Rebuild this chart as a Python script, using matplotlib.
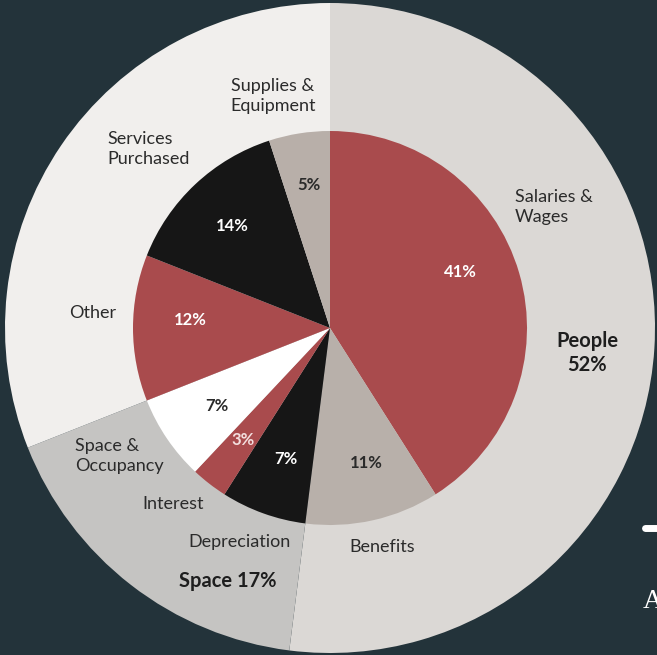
import matplotlib
matplotlib.use("Agg")
import matplotlib.pyplot as plt
from matplotlib.lines import Line2D

plt.rcParams['font.family'] = ['Lato', 'DejaVu Sans']

# outer ring: expense groups (percent of total)
groups = ['People', 'Space', 'Other costs']
group_vals = [52, 17, 31]
group_colors = ['#dbd8d5', '#c5c4c2', '#f1efed']

# inner pie: expense categories, clockwise from 12 o'clock
cats = ['Salaries &\nWages', 'Benefits', 'Depreciation', 'Interest',
        'Space &\nOccupancy', 'Other', 'Services\nPurchased', 'Supplies &\nEquipment']
cat_vals = [41, 11, 7, 3, 7, 12, 14, 5]
cat_colors = ['#a94b4d', '#b8b0aa', '#161616', '#a94b4d',
              '#ffffff', '#a94b4d', '#161616', '#b8afa9']
pct_colors = ['white', '#2a2a2a', 'white', '#f3dede',
              '#2a2a2a', 'white', 'white', '#2a2a2a']

bg = '#23333a'
CX, CY = 330, 328  # pie centre in pixels


def px(x, y):
    # pixel position -> data coords (y up, centre at origin)
    return x - CX, CY - y


fig = plt.figure(figsize=(6.57, 6.55), dpi=100, facecolor=bg)
ax = fig.add_axes([0, 0, 1, 1])
ax.set_facecolor(bg)

ax.pie(group_vals, radius=325, startangle=90, counterclock=False,
       colors=group_colors, wedgeprops=dict(linewidth=0))
ax.pie(cat_vals, radius=197, startangle=90, counterclock=False,
       colors=cat_colors, wedgeprops=dict(linewidth=0))

ax.set_xlim(-CX, 657 - CX)
ax.set_ylim(CY - 655, CY)
ax.set_aspect('equal')
ax.axis('off')

# percentage labels inside the pie
pct_pos = [(460, 272), (366, 463), (286, 459), (243, 440),
           (217, 406), (190, 320), (232, 226), (309, 185)]
for v, (x, y), c in zip(cat_vals, pct_pos, pct_colors):
    ax.text(*px(x, y), f'{v}%', color=c, fontsize=12, fontweight='bold',
            ha='center', va='center')

# category names around the pie
lab_pos = [(515, 207, 'left'), (382, 547, 'center'), (240, 542, 'center'),
           (173, 504, 'center'), (75, 456, 'left'), (93, 313, 'center'),
           (107, 149, 'left'), (273, 96, 'center')]
for name, (x, y, ha) in zip(cats, lab_pos):
    ax.text(*px(x, y), name, color='#2b2b2b', fontsize=13, ha=ha,
            va='center', linespacing=1.35)

# group totals
ax.text(*px(587, 353), f'{groups[0]}\n{group_vals[0]}%', color='#1e1e1e',
        fontsize=14.5, fontweight='bold', ha='center', va='center',
        linespacing=1.2)
ax.text(*px(228, 581), f'{groups[1]} {group_vals[1]}%', color='#1e1e1e',
        fontsize=14.5, fontweight='bold', ha='center', va='center')

# bits of the neighbouring heading at the right edge
fig.add_artist(Line2D([645 / 657, 1.0], [1 - 528 / 655, 1 - 528 / 655],
                      color='white', linewidth=5, solid_capstyle='round'))
fig.text(643 / 657, 1 - 602 / 655, 'A', color='white', fontsize=20,
         family='Liberation Serif', ha='left', va='center')

fig.savefig('out.png', dpi=100, facecolor=bg)
